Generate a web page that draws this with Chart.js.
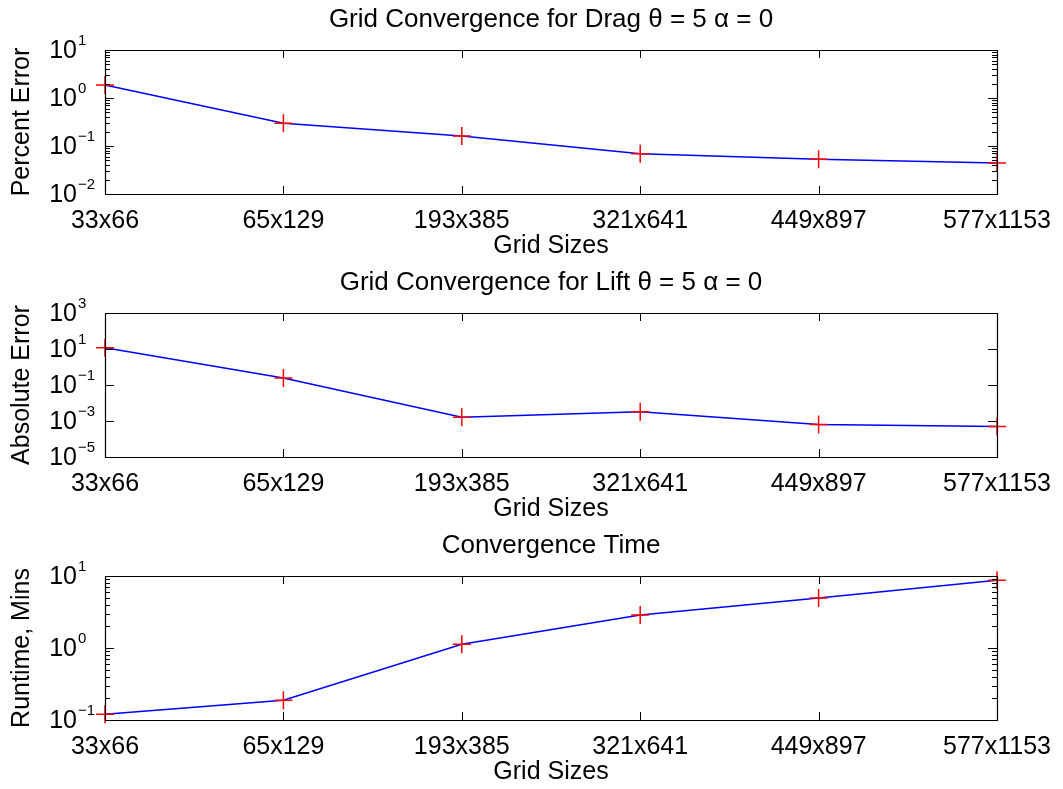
<!DOCTYPE html>
<html>
<head>
<meta charset="utf-8">
<script src="https://cdn.jsdelivr.net/npm/chart.js@4/dist/chart.umd.min.js"></script>
<style>
  html, body { margin: 0; padding: 0; background: #fff; }
  body { width: 1063px; height: 789px; position: relative; overflow: hidden; }
  .panel { position: absolute; left: 0; width: 1063px; height: 263px; }
</style>
</head>
<body>
<div class="panel" style="top:0px"><canvas id="c1"></canvas></div>
<div class="panel" style="top:263px"><canvas id="c2"></canvas></div>
<div class="panel" style="top:526px"><canvas id="c3"></canvas></div>
<script>
// ---- Data ----
const categories = ['33x66', '65x129', '193x385', '321x641', '449x897', '577x1153'];
const dragError = [1.87, 0.297, 0.162, 0.069, 0.053, 0.0443];
const liftError = [11.7, 0.247, 0.00162, 0.0033, 0.00063, 0.00049];
const runtimeMins = [0.12, 0.188, 1.13, 2.88, 4.93, 8.7];

// y tick exponents (labels 10^e)
const dragTickExps = [-2, -1, 0, 1];
const liftTickExps = [-5, -3, -1, 1, 3];
const runtimeTickExps = [-1, 0, 1];

const titles = [
  'Grid Convergence for Drag \u03B8 = 5 \u03B1 = 0',
  'Grid Convergence for Lift \u03B8 = 5 \u03B1 = 0',
  'Convergence Time'
];
const yLabels = ['Percent Error', 'Absolute Error', 'Runtime, Mins'];
const xLabel = 'Grid Sizes';

// ---- Styling ----
const FONT = "'Liberation Sans', Arial, Helvetica, sans-serif";
Chart.defaults.font.family = FONT;
Chart.defaults.color = '#000';

function supText(e) {
  return e < 0 ? '\u2212' + Math.abs(e) : String(e);
}

const matlabAxes = {
  id: 'matlabAxes',
  afterDatasetsDraw(chart, args, opts) {
    const ctx = chart.ctx;
    const a = chart.chartArea;
    const xs = chart.scales.x, ys = chart.scales.y;
    ctx.save();
    ctx.strokeStyle = '#000';
    ctx.lineWidth = 1.2;
    ctx.beginPath();
    ctx.rect(Math.round(a.left) + 0.5, Math.round(a.top) + 0.5,
             Math.round(a.right - a.left), Math.round(a.bottom - a.top));
    ctx.stroke();
    ctx.lineWidth = 1;
    // x ticks (inward, top and bottom)
    const xl = 8;
    ctx.beginPath();
    for (let i = 0; i < categories.length; i++) {
      const x = Math.round(xs.getPixelForValue(i)) + 0.5;
      ctx.moveTo(x, a.bottom); ctx.lineTo(x, a.bottom - xl);
      ctx.moveTo(x, a.top); ctx.lineTo(x, a.top + xl);
    }
    ctx.stroke();
    // y major ticks + minor ticks
    const exps = opts.exps;
    ctx.beginPath();
    exps.forEach(e => {
      const y = Math.round(ys.getPixelForValue(Math.pow(10, e))) + 0.5;
      ctx.moveTo(a.left, y); ctx.lineTo(a.left + 9, y);
      ctx.moveTo(a.right, y); ctx.lineTo(a.right - 9, y);
    });
    if (opts.minor) {
      for (let k = exps[0]; k < exps[exps.length - 1]; k++) {
        for (let m = 2; m <= 9; m++) {
          const y = Math.round(ys.getPixelForValue(m * Math.pow(10, k))) + 0.5;
          ctx.moveTo(a.left, y); ctx.lineTo(a.left + 5, y);
          ctx.moveTo(a.right, y); ctx.lineTo(a.right - 5, y);
        }
      }
    }
    ctx.stroke();
    // y tick labels 10^e
    ctx.fillStyle = '#000';
    exps.forEach(e => {
      const y = ys.getPixelForValue(Math.pow(10, e));
      ctx.font = '25px ' + FONT;
      ctx.textAlign = 'right';
      ctx.textBaseline = 'middle';
      ctx.fillText('10', 77, y + 1);
      ctx.font = '15px ' + FONT;
      ctx.textAlign = 'left';
      ctx.textBaseline = 'alphabetic';
      ctx.fillText(supText(e), 78, y - 5);
    });
    ctx.restore();
  }
};

function makeChart(id, title, yLabel, values, yMin, yMax, exps, minor) {
  return new Chart(document.getElementById(id), {
    type: 'line',
    data: {
      labels: categories,
      datasets: [{
        data: values,
        borderColor: '#0000ff',
        borderWidth: 1.5,
        pointStyle: 'cross',
        pointRadius: 9,
        pointBorderColor: '#ff0000',
        pointBorderWidth: 1.5,
        pointHoverRadius: 9,
        tension: 0,
        fill: false,
        clip: false
      }]
    },
    plugins: [matlabAxes],
    options: {
      responsive: true,
      maintainAspectRatio: false,
      animation: false,
      events: [],
      layout: { padding: { left: 0, right: 64, top: 0, bottom: 0 } },
      plugins: {
        legend: { display: false },
        tooltip: { enabled: false },
        title: {
          display: true,
          text: title,
          fullSize: false,
          color: '#000',
          font: { size: 26, weight: 'normal', family: FONT, lineHeight: 1.2 },
          padding: { top: 4.4, bottom: 14.4 }
        },
        matlabAxes: { exps: exps, minor: minor }
      },
      scales: {
        x: {
          type: 'category',
          offset: false,
          grid: { display: false, drawTicks: false },
          border: { display: false },
          ticks: { font: { size: 25 }, color: '#000', padding: 12, maxRotation: 0, autoSkip: false },
          title: { display: true, text: xLabel, color: '#000', font: { size: 25 }, padding: { top: 0, bottom: 2 } },
          afterFit(scale) { scale.height = 69; }
        },
        y: {
          type: 'logarithmic',
          min: yMin,
          max: yMax,
          grid: { display: false, drawTicks: false },
          border: { display: false },
          ticks: { display: false },
          title: { display: true, text: yLabel, color: '#000', font: { size: 25 }, padding: { top: 7, bottom: 0 } },
          afterFit(scale) { scale.width = 105; }
        }
      }
    }
  });
}

makeChart('c1', titles[0], yLabels[0], dragError, 0.01, 10, dragTickExps, true);
makeChart('c2', titles[1], yLabels[1], liftError, 1e-5, 1e3, liftTickExps, false);
makeChart('c3', titles[2], yLabels[2], runtimeMins, 0.1, 10, runtimeTickExps, true);
</script>
</body>
</html>
